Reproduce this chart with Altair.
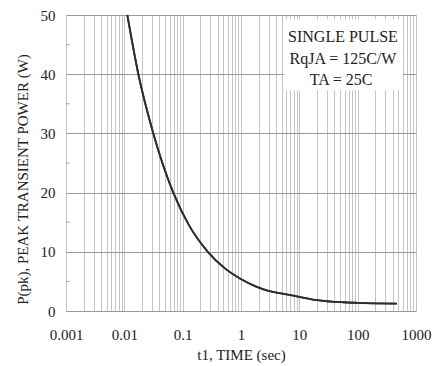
import altair as alt
import pandas as pd

# Curve
t_values = [0.01125, 0.0174, 0.0314, 0.069, 0.128, 0.27, 0.53, 0.96, 1.74, 2.94, 5.7, 10, 20, 56, 100, 470]
p_values = [50, 40, 30, 20, 14.5, 10, 7.2, 5.5, 4.2, 3.4, 2.87, 2.4, 1.85, 1.48, 1.38, 1.25]

# Axes
x_decades = [0.001, 0.01, 0.1, 1, 10, 100, 1000]
x_grid = [m * d for d in [0.001, 0.01, 0.1, 1, 10, 100] for m in range(1, 10)] + [1000]
y_ticks = [0, 10, 20, 30, 40, 50]
y_minor = [5, 15, 25, 35, 45]

# Annotation box (data coordinates)
box_t = [5.4, 600]
box_p = [37.3, 49.3]
note_lines = ["SINGLE PULSE", "RqJA = 125C/W", "TA = 25C"]
note_t = [56, 56, 52]
note_p = [46.2, 42.5, 39.0]

FONT = "Times New Roman"

xscale = alt.Scale(type="log", domain=[0.001, 1000], nice=False)
yscale = alt.Scale(domain=[0, 50], nice=False)

curve_df = pd.DataFrame({"t": t_values, "p": p_values})

label_list = "[" + ",".join("'" + ("%g" % v) + "'" for v in x_decades) + "]"

base = alt.Chart(curve_df).mark_line(
    color="#2e2e2e", strokeWidth=1.8, interpolate="monotone"
).encode(
    x=alt.X("t:Q", scale=xscale,
            axis=alt.Axis(values=x_grid, format="~g",
                          labelExpr="indexof(" + label_list + ", datum.label) >= 0 ? datum.label : ''",
                          labelOverlap=False, labelFlush=False,
                          grid=True, gridColor="#c4c4c4", gridWidth=1,
                          ticks=False, domain=False,
                          labelFont=FONT, labelFontSize=15, labelColor="#222",
                          labelPadding=16,
                          title="t1, TIME (sec)", titleFont=FONT, titleFontSize=15,
                          titleFontWeight="normal", titleColor="#222", titlePadding=5)),
    y=alt.Y("p:Q", scale=yscale,
            axis=alt.Axis(values=y_ticks, grid=True, gridColor="#9a9a9a", gridWidth=1,
                          ticks=False, domain=False,
                          labelFont=FONT, labelFontSize=15, labelColor="#222",
                          labelPadding=11,
                          title="P(pk), PEAK TRANSIENT POWER (W)", titleFont=FONT,
                          titleFontSize=15, titleFontWeight="normal", titleColor="#222",
                          titlePadding=10, titleY=164)),
)

minor_df = pd.DataFrame({"p": y_minor})
minor = alt.Chart(minor_df).mark_rule(color="#aaaaaa", strokeWidth=1).encode(
    y=alt.Y("p:Q", scale=yscale),
    x=alt.value(0), x2=alt.value(4),
)

box_df = pd.DataFrame({"t1": [box_t[0]], "t2": [box_t[1]], "p1": [box_p[0]], "p2": [box_p[1]]})
box = alt.Chart(box_df).mark_rect(color="white").encode(
    x=alt.X("t1:Q", scale=xscale), x2="t2:Q",
    y=alt.Y("p1:Q", scale=yscale), y2="p2:Q",
)

note_df = pd.DataFrame({"txt": note_lines, "t": note_t, "p": note_p})
notes = alt.Chart(note_df).mark_text(
    font=FONT, fontSize=16, color="#222", align="center", baseline="middle"
).encode(
    x=alt.X("t:Q", scale=xscale), y=alt.Y("p:Q", scale=yscale), text="txt:N"
)

chart = alt.layer(base, minor, box, notes, base).properties(
    width=350, height=296,
    autosize=alt.AutoSizeParams(type="none"),
    padding={"left": 66, "top": 15, "right": 16, "bottom": 55},
).configure_view(stroke="#8a8a8a", strokeWidth=1).configure(background="white")

chart.save("out.html", embed_options={"renderer": "svg", "actions": False})
